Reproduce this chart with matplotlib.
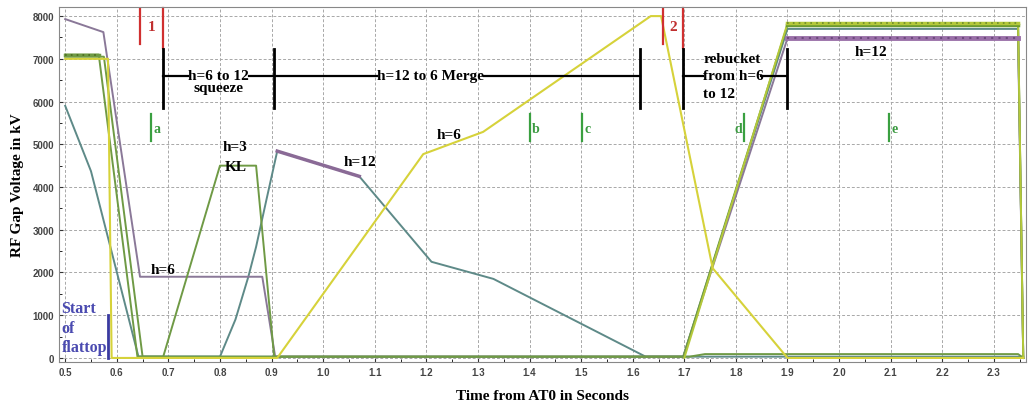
import numpy as np
import matplotlib
matplotlib.use("Agg")
from matplotlib import pyplot as plt

# RF gap voltage traces (time in s, voltage in kV)
purple_t = [0.5, 0.574, 0.645, 0.882, 0.907, 1.698, 1.9, 2.347, 2.357]
purple_v = [7930, 7625, 1900, 1900, 30, 30, 7480, 7480, 0]

teal1_t = [0.5, 0.55, 0.642, 1.698, 1.9, 2.347, 2.357]
teal1_v = [5900, 4370, 30, 30, 7700, 7700, 0]

teal2_t = [0.645, 0.80, 0.83, 0.855, 0.87, 0.89, 0.911, 1.07, 1.21, 1.33, 1.625, 2.357]
teal2_v = [30, 30, 900, 1900, 2600, 3700, 4840, 4250, 2250, 1850, 30, 30]

h12_t = [0.911, 1.07]
h12_v = [4840, 4250]

green1_t = [0.5, 0.565, 0.64, 1.698, 1.9, 2.347, 2.357]
green1_v = [7100, 7100, 30, 30, 7790, 7790, 0]

green2_t = [0.5, 0.575, 0.65, 0.69, 0.80, 0.87, 0.905, 1.71, 1.74, 2.347, 2.357]
green2_v = [7050, 7050, 30, 30, 4500, 4500, 30, 30, 90, 90, 0]

yellow_t = [0.5, 0.583, 0.59, 0.911, 1.194, 1.31, 1.635, 1.655, 1.755, 1.9, 2.357]
yellow_v = [7000, 7000, 0, 0, 4770, 5290, 8000, 8000, 2100, 0, 0]

lime_t = [1.7, 1.9, 2.347, 2.357]
lime_v = [0, 7830, 7830, 0]

xticks = np.round(np.arange(0.5, 2.31, 0.1), 1)
yticks = np.arange(0, 8001, 1000)

# annotation positions
red_marks = [(0.645, 7350, 8170), (0.69, 7250, 8200), (1.659, 7350, 8170), (1.698, 7250, 8200)]
red_labels = [(0.667, 7750, "1"), (1.678, 7750, "2")]
green_marks = [(0.667, "a", "right"), (1.401, "b", "right"), (1.502, "c", "right"),
               (1.816, "d", "left"), (2.097, "e", "right")]
bars = [0.69, 0.905, 1.614, 1.698, 1.9]

serif = ["Liberation Serif", "DejaVu Serif"]
purple = "#8a7898"
teal = "#5e8a88"
green = "#6f9a45"
yellow = "#d6d23a"
lime = "#b4c83a"

fig = plt.figure(figsize=(10.28, 4.06), dpi=100)
ax = fig.add_axes([0.0574, 0.106, 0.9405, 0.874])

ax.plot(teal1_t, teal1_v, color=teal, lw=1.4)
ax.plot(teal2_t, teal2_v, color=teal, lw=1.4)
ax.plot(purple_t, purple_v, color=purple, lw=1.4)
ax.plot(h12_t, h12_v, color="#8a6a96", lw=2.5)
ax.plot(green1_t, green1_v, color=green, lw=1.4)
ax.plot(green2_t, green2_v, color=green, lw=1.4)
ax.plot(lime_t, lime_v, color=lime, lw=1.4)
ax.plot(yellow_t, yellow_v, color=yellow, lw=1.5)

# rippled plateaus
ax.plot(purple_t[6:8], purple_v[6:8], color="#9a70a8", lw=3.5)
ax.plot(purple_t[6:8], purple_v[6:8], color="#6e4a7e", lw=1.5, ls=(0, (1, 2.5)))
ax.plot(green1_t[4:6], green1_v[4:6], color="#6a9a30", lw=2.5)
ax.plot(lime_t[1:3], lime_v[1:3], color=lime, lw=2.5)
ax.plot(lime_t[1:3], lime_v[1:3], color="#6a8a28", lw=1.2, ls=(0, (1, 2.5)))
ax.plot(green1_t[0:2], green1_v[0:2], color=green, lw=2.5)
ax.plot(green1_t[0:2], green1_v[0:2], color="#4a6a20", lw=1.2, ls=(0, (1, 2.5)))

ax.set_xlim(0.488, 2.362)
ax.set_ylim(-94, 8210)
ax.set_xticks(xticks)
ax.set_xticklabels([f"{t:.1f}" for t in xticks])
ax.set_yticks(yticks)
ax.set_xticks(np.arange(0.55, 2.36, 0.1), minor=True)
ax.set_yticks(np.arange(500, 8001, 1000), minor=True)
ax.tick_params(labelsize=7, colors="#333333", length=3, direction="in")
ax.tick_params(which="minor", length=2, direction="in")
for lab in ax.get_xticklabels() + ax.get_yticklabels():
    lab.set_fontfamily("Liberation Sans")
    lab.set_fontweight("bold")
    lab.set_color("#444444")
ax.grid(True, color="#a8a8a8", ls=(0, (3, 2)), lw=0.7)
for sp in ax.spines.values():
    sp.set_color("#888888")

ax.set_ylabel("RF Gap Voltage in kV", family=serif, fontweight="bold", fontsize=11, labelpad=6)
ax.set_xlabel("Time from AT0 in Seconds", family=serif, fontweight="bold", fontsize=11, labelpad=9)

for x, y0, y1 in red_marks:
    ax.plot([x, x], [y0, y1], color="#d03030", lw=1.6, clip_on=False)
for x, y, s in red_labels:
    ax.text(x, y, s, color="#c03030", family=serif, fontweight="bold", fontsize=11,
            ha="center", va="center")

for x, s, side in green_marks:
    ax.plot([x, x], [5075, 5700], color="#3aa040", lw=1.6)
    if side == "right":
        ax.text(x + 0.004, 5380, s, color="#3a9a40", family=serif, fontweight="bold",
                fontsize=10, ha="left", va="center")
    else:
        ax.text(x - 0.004, 5380, s, color="#3a9a40", family=serif, fontweight="bold",
                fontsize=10, ha="right", va="center")

for x in bars:
    ax.plot([x, x], [5850, 7230], color="black", lw=2)
bk = dict(color="black", lw=1.6)
ax.plot([0.69, 0.738], [6600, 6600], **bk)
ax.plot([0.856, 1.105], [6600, 6600], **bk)
ax.plot([1.312, 1.614], [6600, 6600], **bk)
ax.plot([1.698, 1.736], [6600, 6600], **bk)
ax.plot([1.848, 1.9], [6600, 6600], **bk)

tk = dict(family=serif, fontweight="bold", fontsize=11, color="black")
ax.text(0.797, 6600, "h=6 to 12", ha="center", va="center", **tk)
ax.text(0.797, 6330, "squeeze", ha="center", va="center", **tk)
ax.text(1.208, 6600, "h=12 to 6 Merge", ha="center", va="center", **tk)
ax.text(1.737, 7000, "rebucket", ha="left", va="center", **tk)
ax.text(1.737, 6600, "from h=6", ha="left", va="center", **tk)
ax.text(1.737, 6190, "to 12", ha="left", va="center", **tk)
ax.text(0.665, 2060, "h=6", ha="left", va="center", **tk)
ax.text(0.83, 4950, "h=3", ha="center", va="center", **tk)
ax.text(0.83, 4480, "KL", ha="center", va="center", **tk)
ax.text(1.04, 4600, "h=12", ha="left", va="center", **tk)
ax.text(1.22, 5240, "h=6", ha="left", va="center", **tk)
ax.text(2.03, 7160, "h=12", ha="left", va="center", **tk)

ax.plot([0.583, 0.583], [0, 1000], color="#3a3aa0", lw=2)
ax.text(0.493, 60, "Start\nof\nflattop", ha="left", va="bottom", color="#4a4ab0",
        family=serif, fontweight="bold", fontsize=11.5, linespacing=1.3)

fig.savefig("out.png", dpi=100)
